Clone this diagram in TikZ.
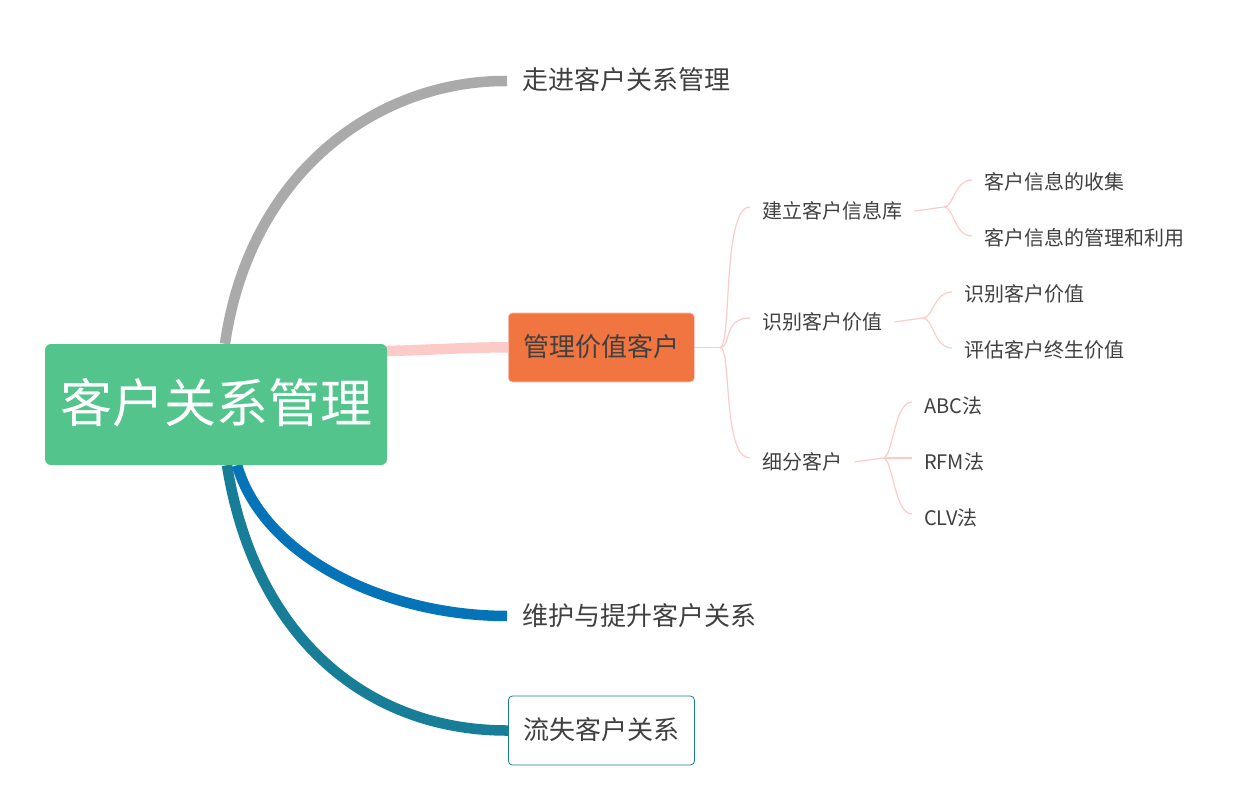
\documentclass[tikz,border=0pt]{standalone}
\usepackage{fontspec}
\setmainfont{Noto Sans CJK SC}
\usepackage{xcolor}
\usepackage{tikz}
\usetikzlibrary{positioning,backgrounds}

\definecolor{rootgreen}{HTML}{52C48C}
\definecolor{valueorange}{HTML}{F07540}
\definecolor{txtgray}{HTML}{404040}
\definecolor{linkpink}{HTML}{FCCBC7}
\definecolor{linkgray}{HTML}{AAAAAA}
\definecolor{linkblue}{HTML}{0573B7}
\definecolor{linkteal}{HTML}{187E98}

\begin{document}
\begin{tikzpicture}[x=1pt, y=-1pt,
  rootbox/.style={fill=rootgreen, text=white, rounded corners=6pt, minimum width=342pt, minimum height=121pt, text height=38pt, text depth=2pt, font=\fontsize{52}{60}\selectfont},
  topic/.style={anchor=west, inner xsep=15pt, minimum height=69pt, text height=20pt, text depth=2pt, text=txtgray, font=\fontsize{26}{30}\selectfont},
  topicbox/.style={topic, minimum width=186pt, rounded corners=4pt},
  sub/.style={anchor=west, inner xsep=12pt, inner ysep=2pt, text=txtgray, font=\fontsize{20}{24}\selectfont},
  mainlink/.style={line width=10.5pt},
  sublink/.style={draw=linkpink, line width=1.2pt}]
  \useasboundingbox (0,0) rectangle (1242,810);

  % Central topic
  \node[rootbox] (root) at (216,404.5) {客户关系管理};

  % Main topics
  \node[topic] (intro) at (507,81) {走进客户关系管理};
  \node[topicbox, fill=valueorange, draw=linkpink, line width=0.6pt] (value) at (508,347.5) {管理价值客户};
  \node[topic] (keep) at (507,616) {维护与提升客户关系};
  \node[topicbox, fill=white, draw=linkteal, line width=0.8pt] (lost) at (508,730.5) {流失客户关系};

  % Subtopics of the value branch
  \node[sub] (base) at (750,211) {建立客户信息库};
  \node[sub] (recog) at (750,322) {识别客户价值};
  \node[sub] (seg) at (750,462) {细分客户};

  \node[sub] (collect) at (972,182) {客户信息的收集};
  \node[sub] (use) at (972,238) {客户信息的管理和利用};
  \node[sub] (recval) at (952,294) {识别客户价值};
  \node[sub] (life) at (952,350) {评估客户终生价值};
  \node[sub] (abc) at (912,406) {ABC法};
  \node[sub] (rfm) at (912,462) {RFM法};
  \node[sub] (clv) at (912,518) {CLV法};

  % Hubs
  \coordinate (vhub) at (720,347.5);
  \coordinate (bhub) at (944,207);
  \coordinate (rhub) at (923,318);
  \coordinate (shub) at (883,458);

  \begin{scope}[on background layer]
    % Thick branches from the centre
    \draw[mainlink, linkgray] ([xshift=9pt]root.north) .. controls (250,170) and (380,80) .. (intro.west);
    \draw[mainlink, linkpink] ([xshift=-20pt, yshift=53pt]root.east) .. controls (440,350) and (465,347) .. (value.west);
    \draw[mainlink, linkteal] ([xshift=11pt]root.south) .. controls (255,640) and (370,731) .. (lost.west);
    \draw[mainlink, linkblue] ([xshift=21pt]root.south) .. controls (265,560) and (390,616) .. (keep.west);
  \end{scope}

  % Thin branches
  \draw[sublink] (value.east) -- (vhub);
  \foreach \n in {base, recog, seg}
    \draw[sublink] (vhub) .. controls +(12,0) and +(-28,0) .. ([yshift=4pt]\n.west);

  \draw[sublink] (base.east) -- (bhub);
  \foreach \n in {collect, use}
    \draw[sublink] (bhub) .. controls +(10,0) and +(-18,0) .. ([yshift=2pt]\n.west);

  \draw[sublink] (recog.east) -- (rhub);
  \foreach \n in {recval, life}
    \draw[sublink] (rhub) .. controls +(10,0) and +(-18,0) .. ([yshift=2pt]\n.west);

  \draw[sublink] (seg.east) -- (shub);
  \foreach \n in {abc, rfm, clv}
    \draw[sublink] (shub) .. controls +(10,0) and +(-18,0) .. ([yshift=4pt]\n.west);
\end{tikzpicture}
\end{document}
